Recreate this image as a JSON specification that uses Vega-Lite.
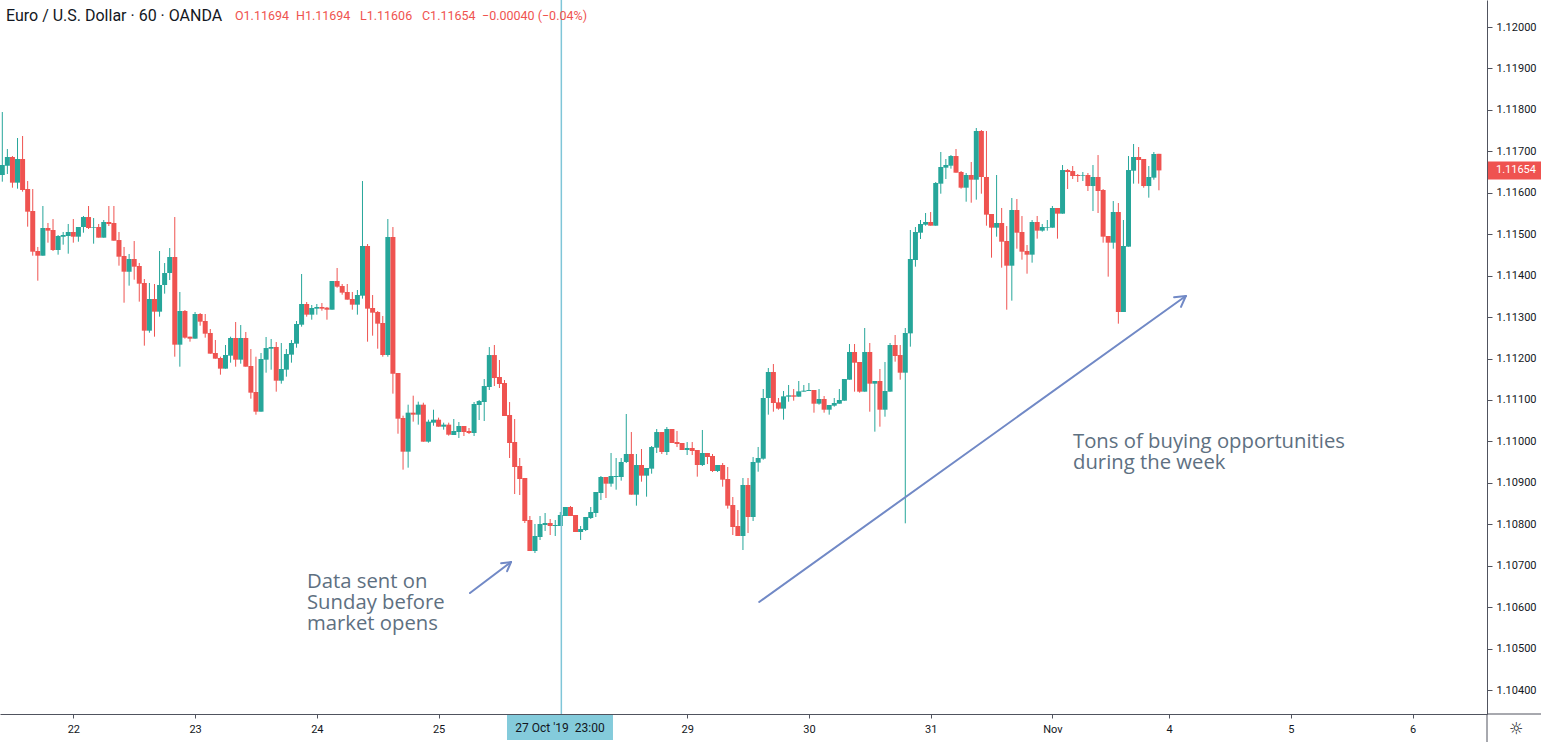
{
"$schema": "https://vega.github.io/schema/vega-lite/v6.json",
"width": 1487, "height": 714,
"autosize": {"type": "none"},
"padding": {"left": 0, "top": 0, "right": 54, "bottom": 28},
"background": "#ffffff",
"config": {"view": {"stroke": null}},
"datasets": {
"candles": [
{"x":0,"o":1.116429,"h":1.117949,"l":1.116268,"c":1.116670},
{"x":1,"o":1.116654,"h":1.117056,"l":1.116453,"c":1.116863},
{"x":2,"o":1.116863,"h":1.116887,"l":1.116123,"c":1.116244},
{"x":3,"o":1.116244,"h":1.117322,"l":1.116099,"c":1.116815},
{"x":4,"o":1.116815,"h":1.117370,"l":1.116027,"c":1.116067},
{"x":5,"o":1.116091,"h":1.116284,"l":1.115182,"c":1.115544},
{"x":6,"o":1.115560,"h":1.116091,"l":1.114482,"c":1.114579},
{"x":7,"o":1.114595,"h":1.114692,"l":1.113879,"c":1.114482},
{"x":8,"o":1.114482,"h":1.115681,"l":1.114482,"c":1.115150},
{"x":9,"o":1.115150,"h":1.115271,"l":1.114796,"c":1.115086},
{"x":10,"o":1.115102,"h":1.115367,"l":1.114595,"c":1.114619},
{"x":11,"o":1.114619,"h":1.114981,"l":1.114507,"c":1.114957},
{"x":12,"o":1.114941,"h":1.115054,"l":1.114748,"c":1.114981},
{"x":13,"o":1.114957,"h":1.115247,"l":1.114531,"c":1.115054},
{"x":14,"o":1.115054,"h":1.115367,"l":1.114796,"c":1.114941},
{"x":15,"o":1.114941,"h":1.115174,"l":1.114820,"c":1.115174},
{"x":16,"o":1.115174,"h":1.115440,"l":1.115037,"c":1.115415},
{"x":17,"o":1.115415,"h":1.115681,"l":1.115126,"c":1.115150},
{"x":18,"o":1.115158,"h":1.115391,"l":1.114772,"c":1.115174},
{"x":19,"o":1.115174,"h":1.115247,"l":1.114917,"c":1.114917},
{"x":20,"o":1.114917,"h":1.115343,"l":1.114917,"c":1.115295},
{"x":21,"o":1.115295,"h":1.115681,"l":1.115198,"c":1.115247},
{"x":22,"o":1.115271,"h":1.115681,"l":1.114844,"c":1.114844},
{"x":23,"o":1.114860,"h":1.115054,"l":1.114241,"c":1.114458},
{"x":24,"o":1.114474,"h":1.114692,"l":1.113348,"c":1.114096},
{"x":25,"o":1.114096,"h":1.114523,"l":1.113759,"c":1.114402},
{"x":26,"o":1.114402,"h":1.114836,"l":1.113903,"c":1.114217},
{"x":27,"o":1.114233,"h":1.114306,"l":1.113373,"c":1.113807},
{"x":28,"o":1.113823,"h":1.113919,"l":1.112311,"c":1.112673},
{"x":29,"o":1.112673,"h":1.113823,"l":1.112624,"c":1.113437},
{"x":30,"o":1.113437,"h":1.113799,"l":1.112528,"c":1.113131},
{"x":31,"o":1.113131,"h":1.114595,"l":1.113011,"c":1.113775},
{"x":32,"o":1.113775,"h":1.114305,"l":1.113566,"c":1.114064},
{"x":33,"o":1.114064,"h":1.114667,"l":1.113895,"c":1.114450},
{"x":34,"o":1.114450,"h":1.115415,"l":1.112045,"c":1.112335},
{"x":35,"o":1.112335,"h":1.113606,"l":1.111804,"c":1.113147},
{"x":36,"o":1.113147,"h":1.113171,"l":1.112480,"c":1.112504},
{"x":37,"o":1.112528,"h":1.112528,"l":1.112407,"c":1.112480},
{"x":38,"o":1.112480,"h":1.113123,"l":1.112480,"c":1.113075},
{"x":39,"o":1.113075,"h":1.113099,"l":1.112793,"c":1.112890},
{"x":40,"o":1.112906,"h":1.113075,"l":1.112504,"c":1.112600},
{"x":41,"o":1.112616,"h":1.112713,"l":1.112118,"c":1.112118},
{"x":42,"o":1.112134,"h":1.112448,"l":1.111997,"c":1.111997},
{"x":43,"o":1.112013,"h":1.112045,"l":1.111611,"c":1.111756},
{"x":44,"o":1.111756,"h":1.112327,"l":1.111756,"c":1.112086},
{"x":45,"o":1.112070,"h":1.112528,"l":1.111901,"c":1.112496},
{"x":46,"o":1.112496,"h":1.112882,"l":1.111804,"c":1.111973},
{"x":47,"o":1.111973,"h":1.112809,"l":1.111876,"c":1.112496},
{"x":48,"o":1.112496,"h":1.112641,"l":1.111804,"c":1.111804},
{"x":49,"o":1.111820,"h":1.112230,"l":1.111032,"c":1.111177},
{"x":50,"o":1.111193,"h":1.112045,"l":1.110646,"c":1.110718},
{"x":51,"o":1.110718,"h":1.112134,"l":1.110718,"c":1.111989},
{"x":52,"o":1.111973,"h":1.112520,"l":1.111659,"c":1.112254},
{"x":53,"o":1.112238,"h":1.112472,"l":1.111732,"c":1.112279},
{"x":54,"o":1.112279,"h":1.112399,"l":1.111201,"c":1.111466},
{"x":55,"o":1.111466,"h":1.112375,"l":1.111394,"c":1.111748},
{"x":56,"o":1.111732,"h":1.112230,"l":1.111563,"c":1.112110},
{"x":57,"o":1.112094,"h":1.112448,"l":1.111901,"c":1.112375},
{"x":58,"o":1.112359,"h":1.112906,"l":1.112262,"c":1.112834},
{"x":59,"o":1.112817,"h":1.114040,"l":1.112769,"c":1.113316},
{"x":60,"o":1.113316,"h":1.113364,"l":1.113011,"c":1.113059},
{"x":61,"o":1.113059,"h":1.113292,"l":1.112938,"c":1.113220},
{"x":62,"o":1.113204,"h":1.113316,"l":1.113059,"c":1.113244},
{"x":63,"o":1.113244,"h":1.113340,"l":1.113155,"c":1.113204},
{"x":64,"o":1.113228,"h":1.113244,"l":1.112938,"c":1.113179},
{"x":65,"o":1.113179,"h":1.113871,"l":1.113179,"c":1.113871},
{"x":66,"o":1.113871,"h":1.114185,"l":1.113710,"c":1.113734},
{"x":67,"o":1.113750,"h":1.113799,"l":1.113541,"c":1.113590},
{"x":68,"o":1.113606,"h":1.113799,"l":1.113421,"c":1.113421},
{"x":69,"o":1.113437,"h":1.113606,"l":1.113179,"c":1.113300},
{"x":70,"o":1.113300,"h":1.113654,"l":1.113059,"c":1.113533},
{"x":71,"o":1.113517,"h":1.116284,"l":1.113445,"c":1.114716},
{"x":72,"o":1.114716,"h":1.114764,"l":1.112407,"c":1.113204},
{"x":73,"o":1.113220,"h":1.113533,"l":1.112552,"c":1.113107},
{"x":74,"o":1.113123,"h":1.113147,"l":1.112238,"c":1.112842},
{"x":75,"o":1.112858,"h":1.113027,"l":1.112045,"c":1.112086},
{"x":76,"o":1.112086,"h":1.115367,"l":1.112045,"c":1.114933},
{"x":77,"o":1.114933,"h":1.115174,"l":1.111153,"c":1.111635},
{"x":78,"o":1.111651,"h":1.111651,"l":1.110187,"c":1.110549},
{"x":79,"o":1.110565,"h":1.110622,"l":1.109319,"c":1.109753},
{"x":80,"o":1.109753,"h":1.110887,"l":1.109367,"c":1.110694},
{"x":81,"o":1.110694,"h":1.111104,"l":1.110477,"c":1.110646},
{"x":82,"o":1.110646,"h":1.110960,"l":1.110405,"c":1.110887},
{"x":83,"o":1.110887,"h":1.110935,"l":1.109994,"c":1.109994},
{"x":84,"o":1.109994,"h":1.110525,"l":1.109970,"c":1.110477},
{"x":85,"o":1.110453,"h":1.110766,"l":1.110380,"c":1.110525},
{"x":86,"o":1.110525,"h":1.110574,"l":1.110356,"c":1.110356},
{"x":87,"o":1.110356,"h":1.110453,"l":1.110284,"c":1.110405},
{"x":88,"o":1.110405,"h":1.110453,"l":1.110139,"c":1.110163},
{"x":89,"o":1.110155,"h":1.110541,"l":1.110155,"c":1.110252},
{"x":90,"o":1.110227,"h":1.110469,"l":1.110083,"c":1.110372},
{"x":91,"o":1.110372,"h":1.110372,"l":1.110131,"c":1.110227},
{"x":92,"o":1.110252,"h":1.110324,"l":1.110179,"c":1.110203},
{"x":93,"o":1.110203,"h":1.110951,"l":1.110131,"c":1.110903},
{"x":94,"o":1.110879,"h":1.111000,"l":1.110517,"c":1.110975},
{"x":95,"o":1.110951,"h":1.111506,"l":1.110493,"c":1.111337},
{"x":96,"o":1.111313,"h":1.112278,"l":1.111241,"c":1.112085},
{"x":97,"o":1.112085,"h":1.112327,"l":1.111337,"c":1.111530},
{"x":98,"o":1.111555,"h":1.111965,"l":1.111289,"c":1.111386},
{"x":99,"o":1.111410,"h":1.111482,"l":1.110614,"c":1.110614},
{"x":100,"o":1.110638,"h":1.110951,"l":1.109600,"c":1.109962},
{"x":101,"o":1.109986,"h":1.110541,"l":1.108731,"c":1.109383},
{"x":102,"o":1.109407,"h":1.109600,"l":1.108707,"c":1.109093},
{"x":103,"o":1.109118,"h":1.109118,"l":1.108032,"c":1.108080},
{"x":104,"o":1.108104,"h":1.108201,"l":1.107356,"c":1.107356},
{"x":105,"o":1.107356,"h":1.108008,"l":1.107308,"c":1.107718},
{"x":106,"o":1.107694,"h":1.108201,"l":1.107622,"c":1.108008},
{"x":107,"o":1.107983,"h":1.108273,"l":1.107839,"c":1.108032},
{"x":108,"o":1.108032,"h":1.108128,"l":1.107742,"c":1.107959},
{"x":109,"o":1.107959,"h":1.108104,"l":1.107718,"c":1.107983},
{"x":110,"o":1.107959,"h":1.108297,"l":1.107959,"c":1.108225},
{"x":111,"o":1.108201,"h":1.108418,"l":1.108201,"c":1.108418},
{"x":112,"o":1.108418,"h":1.108442,"l":1.108201,"c":1.108201},
{"x":113,"o":1.108225,"h":1.108225,"l":1.107815,"c":1.107815},
{"x":114,"o":1.107815,"h":1.107959,"l":1.107622,"c":1.107887},
{"x":115,"o":1.107863,"h":1.108177,"l":1.107839,"c":1.108177},
{"x":116,"o":1.108152,"h":1.108418,"l":1.108128,"c":1.108297},
{"x":117,"o":1.108273,"h":1.108780,"l":1.108177,"c":1.108780},
{"x":118,"o":1.108756,"h":1.109166,"l":1.108587,"c":1.109142},
{"x":119,"o":1.109142,"h":1.109142,"l":1.108635,"c":1.108981},
{"x":120,"o":1.108981,"h":1.109721,"l":1.108908,"c":1.109166},
{"x":121,"o":1.109142,"h":1.109600,"l":1.108836,"c":1.109166},
{"x":122,"o":1.109142,"h":1.109600,"l":1.109053,"c":1.109504},
{"x":123,"o":1.109504,"h":1.110662,"l":1.109479,"c":1.109697},
{"x":124,"o":1.109697,"h":1.110227,"l":1.108715,"c":1.108715},
{"x":125,"o":1.108715,"h":1.109697,"l":1.108450,"c":1.109431},
{"x":126,"o":1.109431,"h":1.109817,"l":1.109029,"c":1.109174},
{"x":127,"o":1.109174,"h":1.109359,"l":1.108667,"c":1.109359},
{"x":128,"o":1.109343,"h":1.109890,"l":1.109222,"c":1.109865},
{"x":129,"o":1.109849,"h":1.110300,"l":1.109721,"c":1.110227},
{"x":130,"o":1.110227,"h":1.110227,"l":1.109697,"c":1.109745},
{"x":131,"o":1.109745,"h":1.110348,"l":1.109672,"c":1.110300},
{"x":132,"o":1.110300,"h":1.110300,"l":1.109962,"c":1.109962},
{"x":133,"o":1.109986,"h":1.110252,"l":1.109865,"c":1.109938},
{"x":134,"o":1.109962,"h":1.109962,"l":1.109793,"c":1.109793},
{"x":135,"o":1.109793,"h":1.109986,"l":1.109672,"c":1.109841},
{"x":136,"o":1.109841,"h":1.109986,"l":1.109672,"c":1.109769},
{"x":137,"o":1.109793,"h":1.109793,"l":1.109150,"c":1.109431},
{"x":138,"o":1.109431,"h":1.110276,"l":1.109407,"c":1.109721},
{"x":139,"o":1.109721,"h":1.109721,"l":1.109455,"c":1.109624},
{"x":140,"o":1.109648,"h":1.109697,"l":1.109262,"c":1.109286},
{"x":141,"o":1.109286,"h":1.109431,"l":1.109262,"c":1.109431},
{"x":142,"o":1.109431,"h":1.109479,"l":1.108908,"c":1.109077},
{"x":143,"o":1.109093,"h":1.109383,"l":1.108378,"c":1.108450},
{"x":144,"o":1.108466,"h":1.108659,"l":1.107742,"c":1.107935},
{"x":145,"o":1.107959,"h":1.108345,"l":1.107718,"c":1.107718},
{"x":146,"o":1.107718,"h":1.109117,"l":1.107380,"c":1.108949},
{"x":147,"o":1.108949,"h":1.109117,"l":1.107790,"c":1.108176},
{"x":148,"o":1.108176,"h":1.109624,"l":1.108080,"c":1.109504},
{"x":149,"o":1.109488,"h":1.109866,"l":1.109270,"c":1.109600},
{"x":150,"o":1.109584,"h":1.111265,"l":1.109560,"c":1.111048},
{"x":151,"o":1.111048,"h":1.111772,"l":1.110646,"c":1.111675},
{"x":152,"o":1.111675,"h":1.111868,"l":1.110718,"c":1.110927},
{"x":153,"o":1.110943,"h":1.111048,"l":1.110766,"c":1.110791},
{"x":154,"o":1.110791,"h":1.111217,"l":1.110525,"c":1.111088},
{"x":155,"o":1.111080,"h":1.111362,"l":1.110959,"c":1.111112},
{"x":156,"o":1.111112,"h":1.111265,"l":1.110983,"c":1.111080},
{"x":157,"o":1.111080,"h":1.111458,"l":1.111080,"c":1.111209},
{"x":158,"o":1.111201,"h":1.111362,"l":1.111201,"c":1.111225},
{"x":159,"o":1.111217,"h":1.111410,"l":1.111217,"c":1.111241},
{"x":160,"o":1.111241,"h":1.111241,"l":1.110694,"c":1.110911},
{"x":161,"o":1.110911,"h":1.111265,"l":1.110887,"c":1.111024},
{"x":162,"o":1.111024,"h":1.111096,"l":1.110694,"c":1.110766},
{"x":163,"o":1.110766,"h":1.110879,"l":1.110646,"c":1.110879},
{"x":164,"o":1.110863,"h":1.111048,"l":1.110839,"c":1.110927},
{"x":165,"o":1.110911,"h":1.111265,"l":1.110911,"c":1.111000},
{"x":166,"o":1.110983,"h":1.111506,"l":1.110983,"c":1.111506},
{"x":167,"o":1.111490,"h":1.112351,"l":1.111490,"c":1.112158},
{"x":168,"o":1.112158,"h":1.112351,"l":1.111201,"c":1.111900},
{"x":169,"o":1.111917,"h":1.111917,"l":1.111177,"c":1.111201},
{"x":170,"o":1.111201,"h":1.112737,"l":1.111201,"c":1.112158},
{"x":171,"o":1.112158,"h":1.112375,"l":1.110718,"c":1.111394},
{"x":172,"o":1.111394,"h":1.111458,"l":1.110236,"c":1.111458},
{"x":173,"o":1.111458,"h":1.111748,"l":1.110356,"c":1.110766},
{"x":174,"o":1.110766,"h":1.111917,"l":1.110597,"c":1.111217},
{"x":175,"o":1.111201,"h":1.112375,"l":1.111201,"c":1.112327},
{"x":176,"o":1.112327,"h":1.112568,"l":1.111925,"c":1.112061},
{"x":177,"o":1.112085,"h":1.112327,"l":1.111490,"c":1.111659},
{"x":178,"o":1.111659,"h":1.112737,"l":1.108024,"c":1.112616},
{"x":179,"o":1.112608,"h":1.115102,"l":1.112287,"c":1.114402},
{"x":180,"o":1.114378,"h":1.115174,"l":1.114217,"c":1.115054},
{"x":181,"o":1.115037,"h":1.115343,"l":1.114885,"c":1.115247},
{"x":182,"o":1.115230,"h":1.115512,"l":1.115206,"c":1.115295},
{"x":183,"o":1.115295,"h":1.115536,"l":1.115206,"c":1.115206},
{"x":184,"o":1.115206,"h":1.116260,"l":1.115206,"c":1.116236},
{"x":185,"o":1.116220,"h":1.116984,"l":1.115978,"c":1.116622},
{"x":186,"o":1.116606,"h":1.116815,"l":1.116332,"c":1.116670},
{"x":187,"o":1.116654,"h":1.116911,"l":1.116582,"c":1.116887},
{"x":188,"o":1.116887,"h":1.117056,"l":1.116485,"c":1.116485},
{"x":189,"o":1.116501,"h":1.116525,"l":1.116099,"c":1.116123},
{"x":190,"o":1.116123,"h":1.116477,"l":1.115785,"c":1.116429},
{"x":191,"o":1.116429,"h":1.116743,"l":1.115761,"c":1.116316},
{"x":192,"o":1.116316,"h":1.117563,"l":1.115834,"c":1.117491},
{"x":193,"o":1.117491,"h":1.117515,"l":1.115978,"c":1.116381},
{"x":194,"o":1.116381,"h":1.117491,"l":1.115206,"c":1.115472},
{"x":195,"o":1.115488,"h":1.115488,"l":1.114434,"c":1.115158},
{"x":196,"o":1.115158,"h":1.116429,"l":1.114941,"c":1.115271},
{"x":197,"o":1.115271,"h":1.115633,"l":1.114193,"c":1.114820},
{"x":198,"o":1.114836,"h":1.115198,"l":1.113179,"c":1.114241},
{"x":199,"o":1.114241,"h":1.115874,"l":1.113397,"c":1.115584},
{"x":200,"o":1.115584,"h":1.115850,"l":1.114651,"c":1.115037},
{"x":201,"o":1.115054,"h":1.115439,"l":1.114386,"c":1.114579},
{"x":202,"o":1.114595,"h":1.114740,"l":1.114048,"c":1.114507},
{"x":203,"o":1.114507,"h":1.115343,"l":1.114314,"c":1.115295},
{"x":204,"o":1.115295,"h":1.115440,"l":1.114893,"c":1.115086},
{"x":205,"o":1.115086,"h":1.115247,"l":1.115062,"c":1.115174},
{"x":206,"o":1.115158,"h":1.115343,"l":1.115086,"c":1.115174},
{"x":207,"o":1.115158,"h":1.115681,"l":1.115158,"c":1.115633},
{"x":208,"o":1.115633,"h":1.115633,"l":1.114893,"c":1.115496},
{"x":209,"o":1.115496,"h":1.116670,"l":1.115496,"c":1.116549},
{"x":210,"o":1.116549,"h":1.116574,"l":1.116091,"c":1.116501},
{"x":211,"o":1.116525,"h":1.116646,"l":1.116332,"c":1.116405},
{"x":212,"o":1.116429,"h":1.116453,"l":1.116260,"c":1.116405},
{"x":213,"o":1.116413,"h":1.116501,"l":1.116284,"c":1.116429},
{"x":214,"o":1.116429,"h":1.116477,"l":1.116043,"c":1.116163},
{"x":215,"o":1.116163,"h":1.116670,"l":1.115560,"c":1.116381},
{"x":216,"o":1.116381,"h":1.116911,"l":1.115512,"c":1.116043},
{"x":217,"o":1.116067,"h":1.116091,"l":1.114796,"c":1.114941},
{"x":218,"o":1.114957,"h":1.114957,"l":1.113976,"c":1.114796},
{"x":219,"o":1.114796,"h":1.115801,"l":1.114651,"c":1.115536},
{"x":220,"o":1.115536,"h":1.115753,"l":1.112842,"c":1.113123},
{"x":221,"o":1.113123,"h":1.115343,"l":1.113123,"c":1.114716},
{"x":222,"o":1.114700,"h":1.116887,"l":1.114700,"c":1.116549},
{"x":223,"o":1.116533,"h":1.117177,"l":1.116220,"c":1.116863},
{"x":224,"o":1.116863,"h":1.117104,"l":1.116220,"c":1.116791},
{"x":225,"o":1.116815,"h":1.116815,"l":1.116123,"c":1.116163},
{"x":226,"o":1.116163,"h":1.116646,"l":1.115882,"c":1.116381},
{"x":227,"o":1.116365,"h":1.116984,"l":1.116316,"c":1.116936},
{"x":228,"o":1.11694,"h":1.11694,"l":1.11606,"c":1.11654}
],
"cursor": [{"x":110.2,"y":1.120652,"y2":1.103423}],
"arrows": [
{"x":149.2,"y":1.106125,"x2":233.3,"y2":1.113509},
{"x":233.3,"y":1.113509,"x2":230.99,"y2":1.11348},
{"x":233.3,"y":1.113509,"x2":232.35,"y2":1.113246},
{"x":92.19,"y":1.106342,"x2":100.28,"y2":1.10709},
{"x":100.28,"y":1.10709,"x2":98.33,"y2":1.107061},
{"x":100.28,"y":1.10709,"x2":99.51,"y2":1.106868}
],
"notes": [
{"x":211.06,"y":1.109986,"text":["Tons of buying opportunities","during the week"]},
{"x":60.06,"y":1.106608,"text":["Data sent on","Sunday before","market opens"]}
],
"title": [{"x":0.73,"y":1.120265,"text":"Euro / U.S. Dollar · 60 · OANDA"}],
"ohlc": [
{"x":45.87,"y":1.120265,"text":"O1.11694"},
{"x":57.89,"y":1.120265,"text":"H1.11694"},
{"x":70.51,"y":1.120265,"text":"L1.11606"},
{"x":82.73,"y":1.120265,"text":"C1.11654"},
{"x":94.56,"y":1.120265,"text":"−0.00040 (−0.04%)"}
],
"cursorbox": [{"x":99.49,"x2":120.38,"y":1.103399,"y2":1.102796}],
"cursortext": [{"x":109.93,"y":1.103085,"text":"27 Oct '19\u00a0\u00a023:00"}],
"pricebox": [{"x":292.86,"x2":303.5,"y":1.116757,"y2":1.116323}],
"pricetext": [{"x":294.44,"y":1.11654,"text":"1.11654"}],
"gear": [{"x":298.4,"y":1.103061,"text":"☼"}],
"seps": [
{"x":292.67,"y":1.103423,"x2":292.67,"y2":1.102747},
{"x":292.67,"y":1.103423,"x2":303.5,"y2":1.103423}
]
},
"encoding": {
"x": {"field":"x","type":"quantitative",
 "scale":{"domain":[-0.453,292.67],"nice":false,"zero":false,"padding":0},
 "axis":{"title":null,"grid":false,"values":[14,38,62,86,135,159,183,207,230,254,278],
  "labelExpr":"['22','23','24','25','29','30','31','Nov','4','5','6'][indexof([14,38,62,86,135,159,183,207,230,254,278], datum.value)]",
  "domainColor":"#50535e","tickColor":"#50535e","tickSize":4,"labelPadding":5,
  "labelFont":"Roboto","labelFontSize":11,"labelColor":"#131722","labelFlush":false,"labelOverlap":false}},
"y": {"field":"y","type":"quantitative",
 "scale":{"domain":[1.103423,1.120652],"nice":false,"zero":false,"padding":0},
 "axis":{"title":null,"grid":false,"orient":"right","format":".5f",
  "values":[1.104,1.105,1.106,1.107,1.108,1.109,1.11,1.111,1.112,1.113,1.114,1.115,1.116,1.117,1.118,1.119,1.12],
  "domainColor":"#50535e","tickColor":"#50535e","tickSize":5,"labelPadding":4,
  "labelFont":"Roboto","labelFontSize":11,"labelColor":"#131722","labelFlush":false,"labelOverlap":false}}
},
"layer": [
{"data":{"name":"candles"},"mark":{"type":"rule","strokeWidth":1},
 "encoding":{"y":{"field":"l","type":"quantitative","scale":{"domain":[1.103423,1.120652],"nice":false,"zero":false,"padding":0},
  "axis":{"title":null,"grid":false,"orient":"right","format":".5f",
  "values":[1.104,1.105,1.106,1.107,1.108,1.109,1.11,1.111,1.112,1.113,1.114,1.115,1.116,1.117,1.118,1.119,1.12],
  "domainColor":"#50535e","tickColor":"#50535e","tickSize":5,"labelPadding":4,
  "labelFont":"Roboto","labelFontSize":11,"labelColor":"#131722","labelFlush":false,"labelOverlap":false}},
  "y2":{"field":"h"},
  "color":{"condition":{"test":"datum.c >= datum.o","value":"#26a69a"},"value":"#ef5350"}}},
{"data":{"name":"candles"},"mark":{"type":"bar","width":5},
 "encoding":{"y":{"field":"o","type":"quantitative","scale":{"domain":[1.103423,1.120652],"nice":false,"zero":false,"padding":0},
  "axis":{"title":null,"grid":false,"orient":"right","format":".5f",
  "values":[1.104,1.105,1.106,1.107,1.108,1.109,1.11,1.111,1.112,1.113,1.114,1.115,1.116,1.117,1.118,1.119,1.12],
  "domainColor":"#50535e","tickColor":"#50535e","tickSize":5,"labelPadding":4,
  "labelFont":"Roboto","labelFontSize":11,"labelColor":"#131722","labelFlush":false,"labelOverlap":false}},
  "y2":{"field":"c"},
  "color":{"condition":{"test":"datum.c >= datum.o","value":"#26a69a"},"value":"#ef5350"}}},
{"data":{"name":"cursor"},"mark":{"type":"rule","color":"#7fc6d8","strokeWidth":1.5},
 "encoding":{"y2":{"field":"y2"}}},
{"data":{"name":"arrows"},"mark":{"type":"rule","color":"#7189c6","strokeWidth":2,"strokeCap":"round"},
 "encoding":{"x2":{"field":"x2"},"y2":{"field":"y2"}}},
{"data":{"name":"notes"},"mark":{"type":"text","align":"left","baseline":"middle","font":"Open Sans","fontSize":20.3,"lineHeight":20.8,"color":"#5e7081"},
 "encoding":{"text":{"field":"text"}}},
{"data":{"name":"title"},"mark":{"type":"text","align":"left","baseline":"middle","font":"Roboto","fontSize":16,"color":"#131722"},
 "encoding":{"text":{"field":"text"}}},
{"data":{"name":"ohlc"},"mark":{"type":"text","align":"left","baseline":"middle","font":"Roboto","fontSize":12.5,"color":"#ef5350"},
 "encoding":{"text":{"field":"text"}}},
{"data":{"name":"cursorbox"},"mark":{"type":"rect","color":"#84cbdb"},
 "encoding":{"x2":{"field":"x2"},"y2":{"field":"y2"}}},
{"data":{"name":"cursortext"},"mark":{"type":"text","align":"center","baseline":"middle","font":"Roboto","fontSize":12,"color":"#131722"},
 "encoding":{"text":{"field":"text"}}},
{"data":{"name":"pricebox"},"mark":{"type":"rect","color":"#ef5350"},
 "encoding":{"x2":{"field":"x2"},"y2":{"field":"y2"}}},
{"data":{"name":"pricetext"},"mark":{"type":"text","align":"left","baseline":"middle","font":"Roboto","fontSize":11,"color":"#ffffff"},
 "encoding":{"text":{"field":"text"}}},
{"data":{"name":"gear"},"mark":{"type":"text","align":"center","baseline":"middle","font":"DejaVu Sans","fontSize":16,"color":"#131722"},
 "encoding":{"text":{"field":"text"}}},
{"data":{"name":"seps"},"mark":{"type":"rule","color":"#50535e","strokeWidth":1},
 "encoding":{"x2":{"field":"x2"},"y2":{"field":"y2"}}}
]
}
